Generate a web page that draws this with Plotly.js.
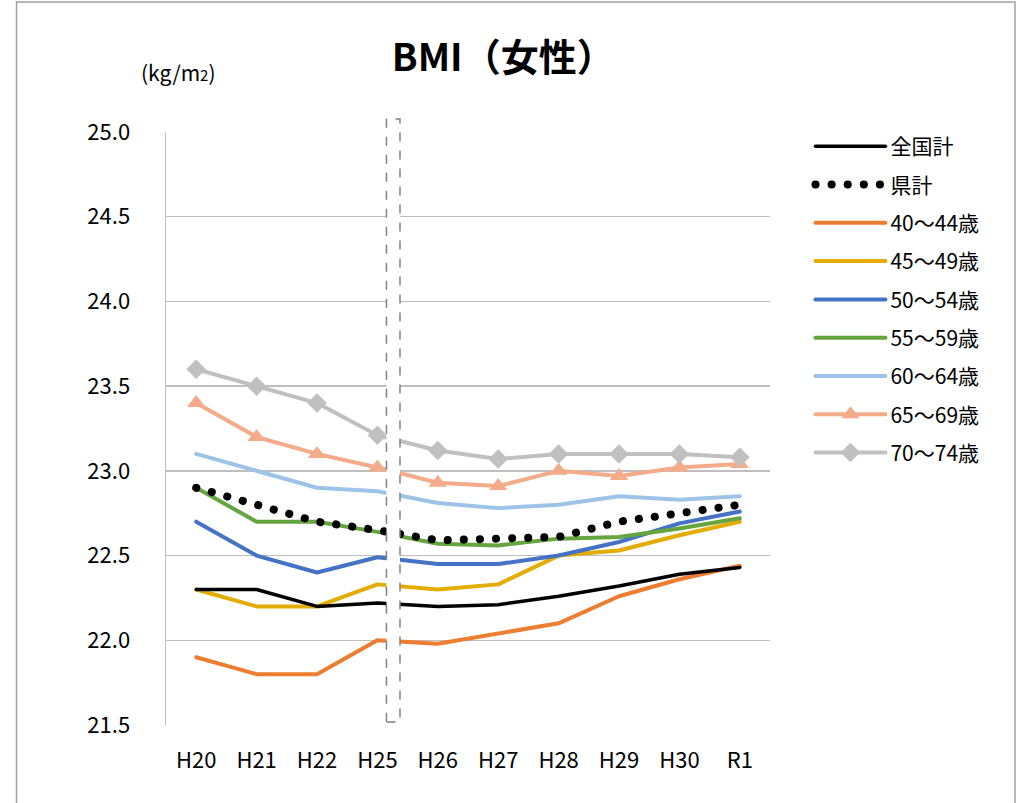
<!DOCTYPE html>
<html>
<head>
<meta charset="utf-8">
<script src="https://cdn.plot.ly/plotly-3.0.1.min.js"></script>
<style>
  html, body { margin: 0; padding: 0; background: #fff; }
  #chart { width: 1027px; height: 803px; }
  .js-line { stroke-linecap: round !important; stroke-linejoin: round !important; }
</style>
</head>
<body>
<div id="chart"></div>
<script>
// 年度（H23・H24 は欠測のため H22 → H25 の間に区切りを置く）
const years = ['H20', 'H21', 'H22', 'H25', 'H26', 'H27', 'H28', 'H29', 'H30', 'R1'];

// BMI 平均値（女性, kg/m2）
const national = [22.30, 22.30, 22.20, 22.22, 22.20, 22.21, 22.26, 22.32, 22.39, 22.43];
const prefecture = [22.90, 22.80, 22.70, 22.65, 22.59, 22.60, 22.61, 22.70, 22.75, 22.80];
const age40_44 = [21.90, 21.80, 21.80, 22.00, 21.98, 22.04, 22.10, 22.26, 22.36, 22.44];
const age45_49 = [22.30, 22.20, 22.20, 22.33, 22.30, 22.33, 22.50, 22.53, 22.62, 22.70];
const age50_54 = [22.70, 22.50, 22.40, 22.49, 22.45, 22.45, 22.50, 22.58, 22.69, 22.76];
const age55_59 = [22.90, 22.70, 22.70, 22.64, 22.57, 22.56, 22.60, 22.61, 22.66, 22.72];
const age60_64 = [23.10, 23.00, 22.90, 22.88, 22.81, 22.78, 22.80, 22.85, 22.83, 22.85];
const age65_69 = [23.40, 23.20, 23.10, 23.02, 22.93, 22.91, 23.00, 22.97, 23.02, 23.04];
const age70_74 = [23.60, 23.50, 23.40, 23.21, 23.12, 23.07, 23.10, 23.10, 23.10, 23.08];

const yTicks = [21.5, 22.0, 22.5, 23.0, 23.5, 24.0, 24.5, 25.0];

const FONT = '"Noto Sans CJK JP", "Noto Sans", sans-serif';

function series(name, values, color, width, rank, extra) {
  return Object.assign({
    type: 'scatter',
    mode: 'lines',
    name: name,
    x: years,
    y: values,
    line: { color: color, width: width },
    legendrank: rank,
    legendgroup: name,
    hoverinfo: 'skip'
  }, extra || {});
}

const traces = [
  series('40～44歳', age40_44, '#ED7D31', 4, 3),
  series('45～49歳', age45_49, '#E5AC00', 4, 4),
  series('50～54歳', age50_54, '#4472C4', 4, 5),
  series('55～59歳', age55_59, '#64A53F', 4, 6),
  series('60～64歳', age60_64, '#9DC3E6', 4, 7),
  series('65～69歳', age65_69, '#F4AB8A', 4, 8, {
    mode: 'lines+markers',
    marker: { symbol: 'triangle-up', size: 16, color: '#F4AB8A' }
  }),
  series('70～74歳', age70_74, '#C0C0C0', 4, 9, {
    mode: 'lines+markers',
    marker: { symbol: 'diamond', size: 15, color: '#C0C0C0' }
  }),
  series('全国計', national, '#000000', 3.5, 1),
  series('県計', prefecture, '#000000', 8, 2, {
    line: { color: '#000000', width: 8, dash: '0.1px,16px' }
  })
];

const layout = {
  width: 1027,
  height: 803,
  margin: { l: 166, r: 257, t: 132, b: 78, pad: 0 },
  paper_bgcolor: '#ffffff',
  plot_bgcolor: '#ffffff',
  font: { family: FONT, color: '#000000', size: 22 },
  showlegend: true,
  title: {
    text: '<b>BMI（女性）</b>',
    font: { family: FONT, size: 38, color: '#000000' },
    x: 0.49, xref: 'container', xanchor: 'center',
    y: 0.928, yref: 'container', yanchor: 'middle'
  },
  xaxis: {
    type: 'category',
    range: [-0.5, 9.5],
    showgrid: false,
    zeroline: false,
    showline: false,
    ticks: '',
    ticklabelstandoff: 20,
    tickfont: { family: FONT, size: 22, color: '#000000' },
    fixedrange: true
  },
  yaxis: {
    range: [21.5, 25.0],
    tickvals: yTicks,
    ticktext: yTicks.map(v => v.toFixed(1)),
    showgrid: true,
    gridcolor: '#BFBFBF',
    gridwidth: 1.5,
    zeroline: false,
    showline: true,
    linecolor: '#BFBFBF',
    linewidth: 1.5,
    ticks: '',
    ticklabelstandoff: 30,
    tickfont: { family: FONT, size: 22, color: '#000000' },
    fixedrange: true
  },
  legend: {
    x: 1.067, xanchor: 'left',
    y: 1.01, yanchor: 'top',
    font: { family: FONT, size: 21, color: '#000000' },
    itemwidth: 70,
    tracegroupgap: 8,
    bgcolor: 'rgba(0,0,0,0)'
  },
  annotations: [{
    text: '(kg/m<span style="font-size:15px">2</span>)',
    xref: 'paper', yref: 'paper',
    x: 0.02, y: 1.101,
    xanchor: 'center', yanchor: 'middle',
    showarrow: false,
    font: { family: FONT, size: 21, color: '#000000' }
  }],
  shapes: [
    // 外枠
    {
      type: 'rect', xref: 'paper', yref: 'paper',
      x0: -0.2475, x1: 1.4056, y0: -0.2, y1: 1.2192,
      line: { color: '#A0A0A0', width: 1.5 },
      fillcolor: 'rgba(0,0,0,0)', layer: 'below'
    },
    // 欠測年度の区切り
    {
      type: 'rect', xref: 'paper', yref: 'paper',
      x0: 0.3650, x1: 0.3874, y0: 0.005, y1: 1.022,
      line: { color: '#808080', width: 1.5, dash: 'dash' },
      fillcolor: '#ffffff', layer: 'above'
    }
  ]
};

Plotly.newPlot('chart', traces, layout, { staticPlot: true, displayModeBar: false });
</script>
</body>
</html>
